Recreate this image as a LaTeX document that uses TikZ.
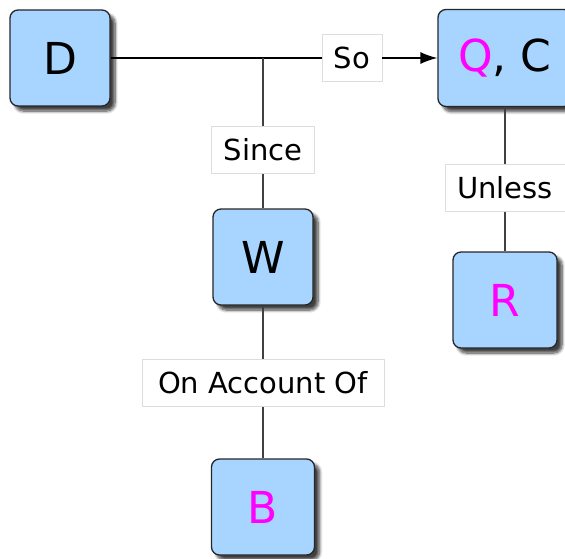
\documentclass[tikz,border=0pt]{standalone}
\usepackage{fontspec}
\setmainfont{DejaVu Sans}
\usepackage{tikz}
\usetikzlibrary{
  arrows.meta,
  positioning,
  shadows.blur
}

\definecolor{boxblue}{HTML}{A8D5FF}
\definecolor{hilite}{HTML}{FF00FF}
\definecolor{edgegray}{HTML}{DDDDDD}

\begin{document}
\begin{tikzpicture}[x=1pt, y=-1pt]

\tikzset{
  toulmin/.style={
    draw=black!85,
    fill=boxblue,
    rounded corners=8pt,
    line width=1.3pt,
    minimum width=100pt,
    minimum height=96pt,
    font=\fontsize{44}{50}\selectfont,
    blur shadow={shadow xshift=5pt, shadow yshift=-5pt, shadow blur steps=8, shadow blur radius=3pt, shadow opacity=75}
  },
  tag/.style={
    draw=edgegray,
    fill=white,
    line width=0.6pt,
    minimum height=47pt,
    inner xsep=12pt,
    font=\fontsize{29}{33}\selectfont
  },
  link/.style={line width=1.3pt, draw=black!75},
  >={Latex[length=17pt, width=12pt]}
}

\useasboundingbox (0,0) rectangle (565,559);

% Boxes
\node[toulmin] (D) at (60,58)  {D};
\node[toulmin, minimum width=134pt, minimum height=97pt] (QC) at (505,58) {\textcolor{hilite}{Q}, C};
\node[toulmin] (W) at (263,257) {W};
\node[toulmin, minimum width=103pt] (B) at (263,507) {\textcolor{hilite}{B}};
\node[toulmin, minimum width=104pt] (R) at (505,300) {\textcolor{hilite}{R}};

% Labels
\node[tag] (so)      at (352,58)  {So};
\node[tag] (since)   at (263,150) {Since};
\node[tag, inner xsep=16pt] (account) at (263,383) {On Account Of};
\node[tag] (unless)  at (505,188) {Unless};

\coordinate (joint) at (263,58);

% Lines
\draw[link, draw=black] (D.east) -- (joint) -- (so.west);
\draw[link, draw=black, ->] (so.east) -- (QC.west);
\draw[link] (joint) -- (since.north);
\draw[link] (since.south) -- (W.north);
\draw[link] (W.south) -- (account.north);
\draw[link] (account.south) -- (B.north);
\draw[link] (QC.south) -- (unless.north);
\draw[link] (unless.south) -- (R.north);

\end{tikzpicture}
\end{document}
